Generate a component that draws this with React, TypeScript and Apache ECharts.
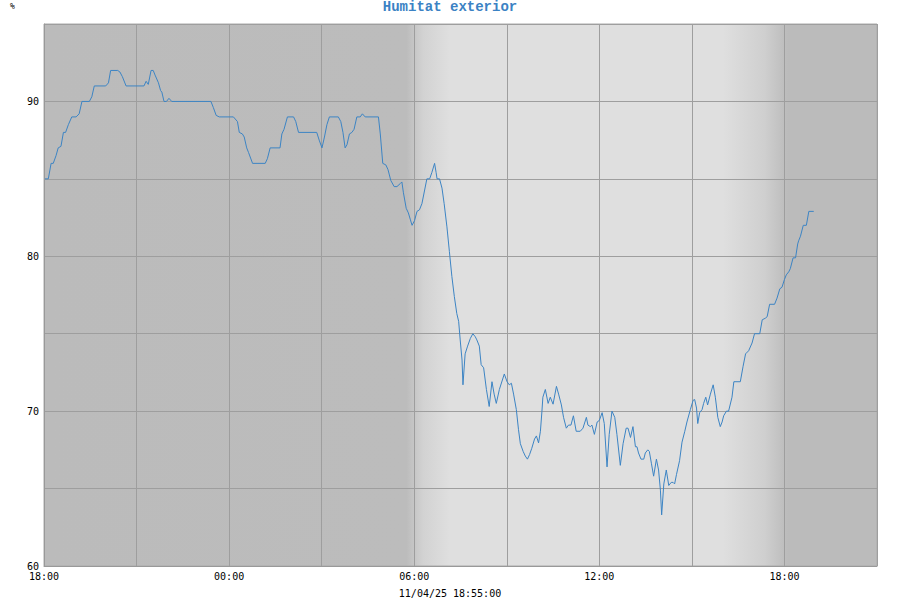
import React, { useEffect, useRef } from "react";
import * as echarts from "echarts";

// hours since 18:00 (10/04/25)
const hours: number[] = [
  0.03, 0.14, 0.23, 0.30, 0.39, 0.46, 0.55, 0.63, 0.70, 0.79, 0.90, 1.04, 1.14, 1.23, 1.47, 1.55, 1.63, 2.00, 2.09, 2.16,
  2.39, 2.46, 2.54, 2.66, 3.24, 3.31, 3.38, 3.47, 3.54, 3.60, 3.71, 3.78, 3.82, 3.89, 3.97, 4.05, 4.14, 5.41, 5.49, 5.58,
  5.68, 6.14, 6.27, 6.33, 6.43, 6.49, 6.57, 6.63, 6.76, 7.17, 7.24, 7.33, 7.65, 7.71, 7.78, 7.89, 8.09, 8.16, 8.25, 8.84,
  8.92, 9.01, 9.09, 9.17, 9.25, 9.54, 9.62, 9.69, 9.76, 9.82, 9.90, 9.98, 10.05, 10.14, 10.25, 10.32, 10.41, 10.84, 10.90, 10.98,
  11.08, 11.15, 11.24, 11.35, 11.44, 11.55, 11.60, 11.65, 11.74, 11.81, 11.87, 11.93, 12.01, 12.09, 12.17, 12.25, 12.41, 12.50, 12.57, 12.66,
  12.71, 12.74, 12.82, 12.90, 12.97, 13.06, 13.14, 13.22, 13.30, 13.38, 13.44, 13.49, 13.55, 13.58, 13.65, 13.73, 13.82, 13.90, 13.98, 14.03,
  14.11, 14.17, 14.25, 14.34, 14.43, 14.52, 14.59, 14.66, 14.76, 14.92, 15.01, 15.08, 15.15, 15.22, 15.31, 15.38, 15.44, 15.53, 15.60, 15.67,
  15.74, 15.81, 15.90, 15.96, 16.03, 16.09, 16.14, 16.17, 16.25, 16.34, 16.41, 16.50, 16.61, 16.68, 16.77, 16.84, 16.93, 17.00, 17.08, 17.16,
  17.25, 17.38, 17.47, 17.58, 17.63, 17.71, 17.76, 17.84, 17.93, 18.00, 18.09, 18.16, 18.25, 18.32, 18.41, 18.50, 18.57, 18.68, 18.77, 18.87,
  18.93, 19.01, 19.09, 19.17, 19.22, 19.27, 19.35, 19.44, 19.49, 19.57, 19.62, 19.69, 19.76, 19.85, 19.92, 19.98, 20.02, 20.09, 20.17, 20.25,
  20.33, 20.39, 20.44, 20.50, 20.60, 20.68, 20.77, 20.84, 20.95, 21.04, 21.09, 21.15, 21.19, 21.25, 21.33, 21.38, 21.45, 21.51, 21.60, 21.69,
  21.76, 21.84, 21.92, 21.98, 22.03, 22.12, 22.19, 22.30, 22.36, 22.57, 22.66, 22.74, 22.84, 22.95, 23.03, 23.20, 23.28, 23.38, 23.44, 23.52,
  23.68, 23.76, 23.85, 23.92, 24.00, 24.06, 24.14, 24.19, 24.28, 24.36, 24.43, 24.46, 24.52, 24.61, 24.71, 24.79, 24.95,
];

const humidity: number[] = [
  85, 85, 86, 86, 86.5, 87, 87.1, 88, 88, 88.5, 89, 89, 89.2, 90, 90, 90.3, 91, 91, 91.2, 92,
  92, 91.9, 91.6, 91, 91, 91.3, 91.1, 92, 92, 91.7, 91.2, 90.7, 90.6, 90, 90, 90.2, 90, 90, 89.6, 89.1,
  89, 89, 88.7, 88, 87.9, 87.7, 87, 86.7, 86, 86, 86.3, 87, 87, 87.9, 88.2, 89, 89, 88.7, 88, 88,
  87.5, 87, 87.7, 88.5, 89, 89, 88.7, 88, 87, 87.2, 87.9, 88, 88.2, 89, 89, 89.2, 89, 89, 87.9, 86,
  85.9, 85.6, 84.9, 84.5, 84.5, 84.7, 84.8, 84.1, 83.1, 82.8, 82.4, 82.0, 82.3, 82.9, 83, 83.4, 85, 85, 85.4, 86,
  85.4, 85, 85, 84.4, 83.4, 81.9, 80.3, 78.7, 77.4, 76.3, 75.8, 74.6, 73.3, 71.7, 73.7, 74.2, 74.7, 75.0, 74.8, 74.6,
  74.2, 73.0, 72.8, 71.4, 70.3, 71.9, 71.1, 70.5, 71.4, 72.4, 71.9, 71.7, 71.8, 71.1, 70.1, 68.8, 67.9, 67.4, 67.1, 66.9,
  67.2, 67.6, 68.2, 68.4, 67.95, 68.7, 70.0, 70.9, 71.4, 70.5, 70.9, 70.45, 71.6, 71.1, 70.4, 69.6, 68.9, 69.1, 69.1, 69.7,
  68.7, 68.7, 68.9, 69.6, 69.1, 69.0, 69.1, 68.5, 69.3, 69.4, 69.9, 69.2, 66.4, 68.5, 70.0, 69.6, 68.5, 66.5, 67.9, 68.9,
  68.9, 68.3, 69.0, 67.7, 67.7, 67.3, 66.9, 66.9, 67.3, 67.5, 67.4, 66.6, 65.8, 66.9, 66.2, 64.9, 63.3, 65.3, 66.2, 65.2,
  65.4, 65.4, 65.3, 65.9, 66.8, 68.0, 68.7, 69.3, 70.1, 70.7, 70.75, 70.2, 69.2, 69.9, 70.1, 70.5, 70.9, 70.4, 71.1, 71.7,
  70.9, 69.6, 69.0, 69.3, 69.7, 70.0, 70.0, 70.9, 71.9, 71.9, 72.9, 73.7, 73.9, 74.4, 75.0, 75.0, 75.9, 76.0, 76.1, 76.9,
  76.9, 77.3, 77.9, 78.0, 78.5, 78.8, 79.0, 79.2, 79.9, 79.9, 80.8, 81.0, 81.3, 82.0, 82.0, 82.9, 82.9,
];

const xTickLabels: string[] = ["18:00", "00:00", "06:00", "12:00", "18:00"];
const title = "Humitat exterior";
const unit = "%";
const timestamp = "11/04/25 18:55:00";

export default function App() {
  const ref = useRef<HTMLDivElement>(null);
  useEffect(() => {
    if (!ref.current) return;
    const chart = echarts.init(ref.current, null, { renderer: "svg" });
    const data = hours.map((h, i) => [h, humidity[i]]);
    const bg = new echarts.graphic.LinearGradient(0, 0, 1, 0, [
      { offset: 0, color: "#bbbbbb" },
      { offset: 0.435, color: "#bcbcbc" },
      { offset: 0.455, color: "#d2d2d2" },
      { offset: 0.487, color: "#dfdfdf" },
      { offset: 0.815, color: "#dfdfdf" },
      { offset: 0.865, color: "#cfcfcf" },
      { offset: 0.893, color: "#bbbbbb" },
      { offset: 1, color: "#bbbbbb" },
    ]);
    const mono = "DejaVu Sans Mono";
    chart.setOption({
      animation: false,
      title: {
        text: title,
        left: "center",
        top: 0,
        padding: 0,
        textStyle: {
          fontFamily: "Liberation Mono",
          fontSize: 14,
          fontWeight: "bold",
          color: "#3b82c4",
        },
      },
      graphic: [
        {
          type: "text",
          left: 10,
          top: 2,
          style: { text: unit, fontFamily: mono, fontSize: 8, fill: "#000" },
        },
        {
          type: "text",
          left: "center",
          top: 588,
          style: { text: timestamp, fontFamily: mono, fontSize: 10, fill: "#000" },
        },
      ],
      grid: {
        left: 44,
        right: 23,
        top: 24,
        bottom: 34,
        show: true,
        backgroundColor: bg,
        borderColor: "#aaaaaa",
        borderWidth: 1,
      },
      xAxis: {
        type: "value",
        min: 0,
        max: 27,
        interval: 3,
        axisLine: { show: true, lineStyle: { color: "#999999", width: 1 } },
        axisTick: { show: false },
        splitLine: { show: true, lineStyle: { color: "#9e9e9e", width: 1 } },
        axisLabel: {
          fontFamily: mono,
          fontSize: 10,
          color: "#000",
          margin: 5,
          showMaxLabel: true,
          formatter: (v: number) => (v % 6 === 0 ? xTickLabels[v / 6] ?? "" : ""),
        },
      },
      yAxis: {
        type: "value",
        min: 60,
        max: 95,
        interval: 5,
        axisLine: { show: true, lineStyle: { color: "#999999", width: 1 } },
        axisTick: { show: false },
        splitLine: { show: true, lineStyle: { color: "#9e9e9e", width: 1 } },
        axisLabel: {
          fontFamily: mono,
          fontSize: 10,
          color: "#000",
          margin: 5,
          formatter: (v: number) => (v % 10 === 0 ? String(v) : ""),
        },
      },
      series: [
        {
          type: "line",
          data,
          showSymbol: false,
          symbol: "none",
          lineStyle: { color: "#3c84c4", width: 1 },
          itemStyle: { color: "#3c84c4" },
        },
      ],
    });
    return () => chart.dispose();
  }, []);
  return (
    <div
      ref={ref}
      style={{ position: "absolute", left: 0, top: 0, width: 900, height: 600 }}
    />
  );
}
